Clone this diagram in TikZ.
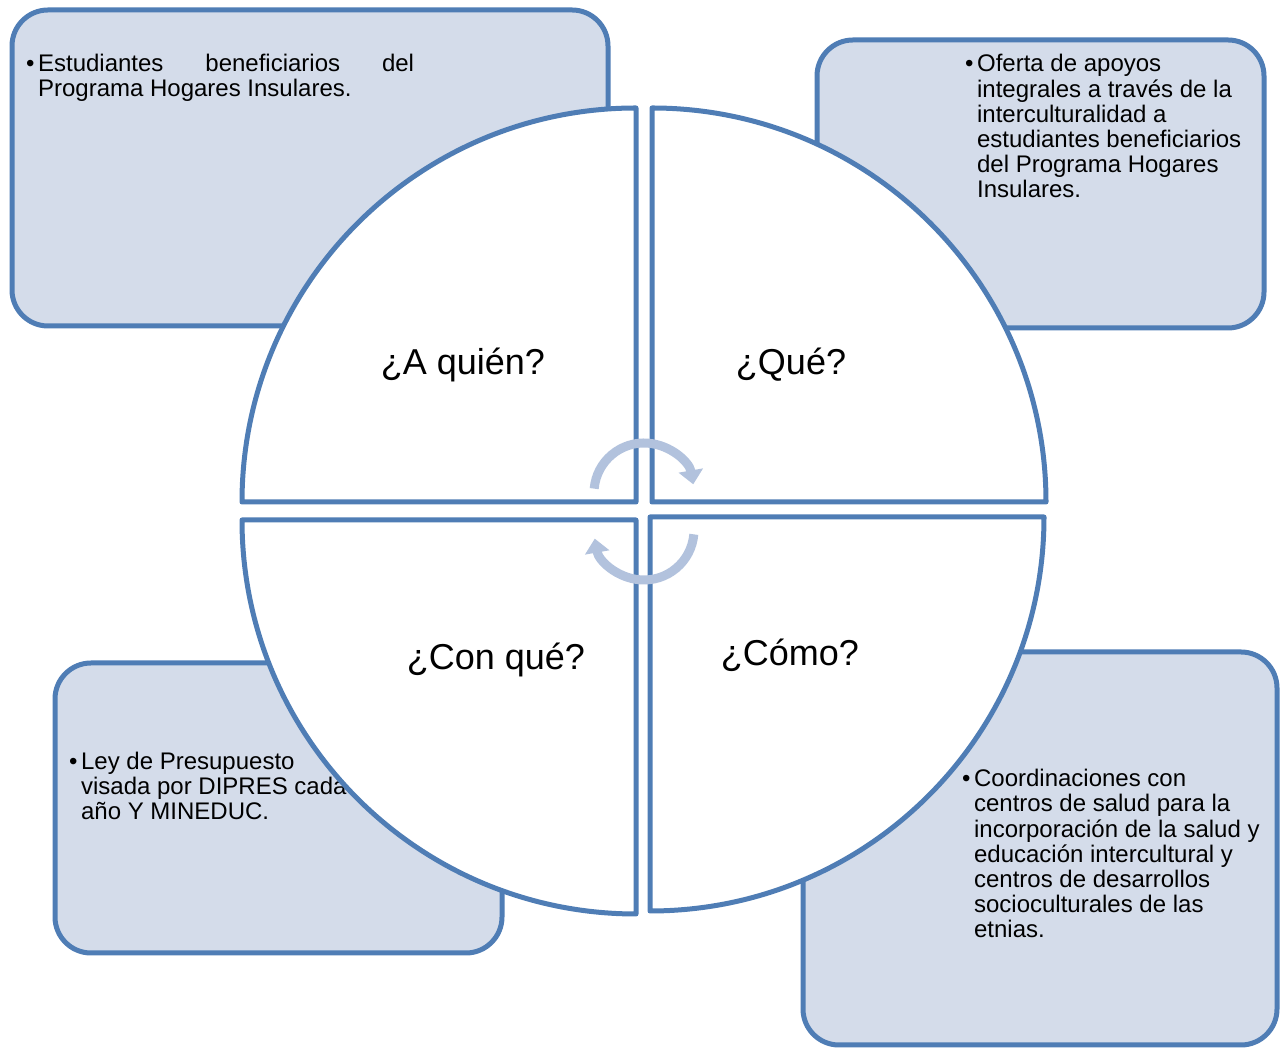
\documentclass[tikz,border=0pt]{standalone}
\usepackage{fontspec}
\setmainfont{Liberation Sans}
\usetikzlibrary{arrows.meta}
\definecolor{bordblue}{HTML}{4F7DB5}
\definecolor{boxfill}{HTML}{D4DCEA}
\definecolor{arrblue}{HTML}{B2C2DD}
\tikzset{
  infobox/.style={draw=bordblue, fill=boxfill, line width=5pt, rounded corners=36pt},
  quad/.style={draw=bordblue, fill=white, line width=5pt, line join=round},
  qlabel/.style={anchor=base, inner sep=0pt, font=\fontsize{36}{40}\selectfont},
  btext/.style={anchor=base west, inner sep=0pt, font=\fontsize{24}{25}\selectfont},
  cyc/.style={draw=arrblue, line width=9pt, -{Triangle[width=24pt,length=14pt]}}
}
\newcommand{\bul}[1]{\begin{tabular}[t]{@{}l@{\hspace{3.5pt}}l@{}}#1\end{tabular}}
\begin{document}
\begin{tikzpicture}[x=1pt,y=1pt]
\useasboundingbox (0,0) rectangle (1282,1048);
% boxes
\draw[infobox] (12,1038) rectangle (608,722);
\draw[infobox] (817,1008) rectangle (1264,720);
\draw[infobox] (55,385) rectangle (502,95);
\draw[infobox] (803,396) rectangle (1277,3);
% box texts
\node[btext] (t1) at (26,976) {\bul{•&\makebox[376pt][s]{Estudiantes\hfill beneficiarios\hfill del}\\ &Programa Hogares Insulares.}};
\node[btext] (t2) at (965,976) {\bul{•&Oferta de apoyos\\ &integrales a través de la\\ &interculturalidad a\\ &estudiantes beneficiarios\\ &del Programa Hogares\\ &Insulares.}};
\node[btext] (t3) at (69,278) {\bul{•&Ley de Presupuesto\\ &visada por DIPRES cada\\ &año Y MINEDUC.}};
\node[btext] (t4) at (962,261) {\bul{•&Coordinaciones con\\ &centros de salud para la\\ &incorporación de la salud y\\ &educación intercultural y\\ &centros de desarrollos\\ &socioculturales de las\\ &etnias.}};
% quadrants
\draw[quad] (636,546) -- (242,546) arc[start angle=180,end angle=90,radius=394] -- cycle;
\draw[quad] (652,546) -- (652,940) arc[start angle=90,end angle=0,radius=394] -- cycle;
\draw[quad] (636,528) -- (636,134) arc[start angle=270,end angle=180,radius=394] -- cycle;
\draw[quad] (650,531) -- (1044,531) arc[start angle=0,end angle=-90,radius=394] -- cycle;
% labels
\node[qlabel] (q1) at (463,673) {¿A quién?};
\node[qlabel] (q2) at (791,673) {¿Qué?};
\node[qlabel] (q3) at (496,378) {¿Con qué?};
\node[qlabel] (q4) at (790,382) {¿Cómo?};
% cycle arrows
\coordinate (c1) at (644,555);
\coordinate (c2) at (644,518);
\draw[cyc] ([shift={(175:50)}]c1) arc[start angle=175,end angle=10,radius=50];
\draw[cyc] ([shift={(-5:50)}]c2) arc[start angle=-5,end angle=-170,radius=50];
\end{tikzpicture}
\end{document}
